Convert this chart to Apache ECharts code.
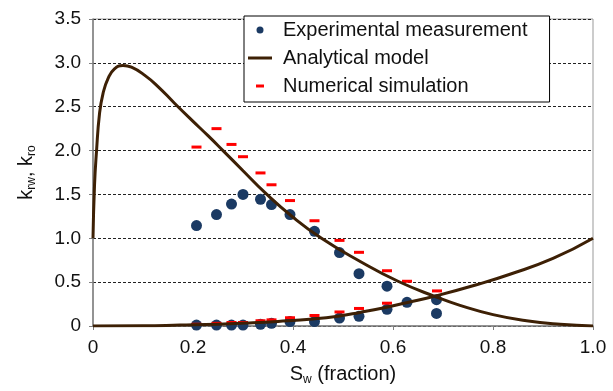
<!DOCTYPE html>
<html>
<head>
<meta charset="utf-8">
<script src="https://cdn.jsdelivr.net/npm/echarts@6/dist/echarts.min.js"></script>
<style>
  html, body {margin: 0; padding: 0; background: #fff;}
  #main {width: 613px; height: 391px;}
</style>
</head>
<body>
<div id="main"></div>
<script>
// experimental points
const swExp = [0.207, 0.247, 0.277, 0.30, 0.335, 0.357, 0.394, 0.443, 0.493, 0.532, 0.588, 0.628, 0.687];
const kroExp = [1.145, 1.27, 1.39, 1.50, 1.445, 1.385, 1.27, 1.08, 0.837, 0.597, 0.454, null, 0.143];
const krwExp = [0.01, 0.01, 0.01, 0.01, 0.02, 0.03, 0.05, 0.05, 0.09, 0.11, 0.19, 0.27, 0.30];

// numerical simulation
const swSim = [0.207, 0.247, 0.277, 0.30, 0.335, 0.357, 0.394, 0.443, 0.493, 0.532, 0.588, 0.628, 0.688];
const kroSim = [2.04, 2.25, 2.07, 1.93, 1.745, 1.61, 1.43, 1.20, 0.976, 0.84, 0.63, 0.51, 0.40];
const krwSim = [0.02, 0.03, 0.04, 0.04, 0.06, 0.07, 0.094, 0.12, 0.16, 0.20, 0.26, null, null];

// analytical model curves
const swModelKro = [0, 0.003, 0.007, 0.013, 0.02, 0.03, 0.043, 0.06, 0.077, 0.103, 0.13, 0.163, 0.197, 0.23, 0.26, 0.30, 0.344, 0.40, 0.457, 0.53, 0.61, 0.687, 0.734, 0.80, 0.867, 0.934, 1.0];
const kroModel = [1.0, 1.6, 1.99, 2.42, 2.65, 2.82, 2.93, 2.97, 2.95, 2.86, 2.73, 2.54, 2.35, 2.17, 2.0, 1.77, 1.52, 1.24, 1.0, 0.75, 0.51, 0.33, 0.235, 0.13, 0.06, 0.02, 0];
const swModelKrw = [0, 0.1, 0.174, 0.25, 0.307, 0.37, 0.44, 0.49, 0.534, 0.58, 0.627, 0.687, 0.767, 0.834, 0.92, 1.0];
const krwModel = [0, 0.002, 0.01, 0.02, 0.033, 0.052, 0.08, 0.112, 0.155, 0.205, 0.265, 0.345, 0.47, 0.59, 0.77, 1.0];

const pairs = (xs, ys) => xs.map((x, i) => [x, ys[i]]).filter(p => p[1] !== null);

const font = 'Liberation Sans, Arial, Helvetica, sans-serif';
const brown = '#3d2005';
const tickFmt = v => v === 0 ? '0' : v.toFixed(1);

const chart = echarts.init(document.getElementById('main'));
chart.setOption({
    animation: false,
    textStyle: {fontFamily: font, color: '#111'},
    grid: {left: 93, right: 20, top: 19, bottom: 61, show: true, borderColor: '#999', borderWidth: 1},
    legend: {
        orient: 'vertical',
        left: 244,
        top: 16,
        padding: [3, 22, 5, 4],
        backgroundColor: '#fff',
        borderColor: '#000',
        borderWidth: 1,
        itemWidth: 24,
        itemHeight: 7,
        itemGap: 6,
        textStyle: {fontSize: 20, lineHeight: 22, color: '#111', padding: [0, 0, 0, 6]},
        data: [
            {name: 'Experimental measurement', icon: 'circle'},
            {name: 'Analytical model', icon: 'path://M0,0M24,7M0,2h24v3h-24z'},
            {name: 'Numerical simulation', icon: 'path://M0,0M24,7M8,2h8v3h-8z'}
        ]
    },
    xAxis: {
        type: 'value',
        min: 0,
        max: 1,
        interval: 0.2,
        name: '{m|S}{s|w}{m| (fraction)}',
        nameLocation: 'middle',
        nameGap: 36,
        nameTextStyle: {
            rich: {
                m: {fontSize: 20, lineHeight: 24, fontFamily: font, color: '#111'},
                s: {fontSize: 12, lineHeight: 12, verticalAlign: 'bottom', fontFamily: font, color: '#111'}
            }
        },
        axisLine: {lineStyle: {color: '#808080', width: 1.5}},
        axisTick: {show: true, length: 4, lineStyle: {color: '#808080'}},
        axisLabel: {fontSize: 19, margin: 12, color: '#111', formatter: tickFmt},
        splitLine: {show: false}
    },
    yAxis: {
        type: 'value',
        min: 0,
        max: 3.5,
        interval: 0.5,
        name: '{m|k}{s|rw}{m|, k}{s|ro}',
        nameLocation: 'middle',
        nameRotate: 90,
        nameGap: 55,
        nameTextStyle: {
            rich: {
                m: {fontSize: 20, lineHeight: 24, fontFamily: font, color: '#111'},
                s: {fontSize: 12, lineHeight: 12, verticalAlign: 'bottom', fontFamily: font, color: '#111'}
            }
        },
        axisLine: {show: true, lineStyle: {color: '#808080', width: 1.5}},
        axisTick: {show: true, length: 4, lineStyle: {color: '#808080'}},
        axisLabel: {fontSize: 19, margin: 12, color: '#111', formatter: tickFmt},
        splitLine: {show: true, lineStyle: {color: '#222', type: [3, 2], width: 1}}
    },
    series: [
        {
            name: 'Experimental measurement',
            type: 'scatter',
            symbol: 'circle',
            symbolSize: 11,
            itemStyle: {color: '#1b3a63', opacity: 1},
            data: pairs(swExp, kroExp).concat(pairs(swExp, krwExp))
        },
        {
            name: 'Analytical model',
            type: 'line',
            symbol: 'none',
            smooth: true,
            lineStyle: {color: brown, width: 3},
            itemStyle: {color: brown},
            data: pairs(swModelKro, kroModel)
        },
        {
            name: 'Analytical model',
            type: 'line',
            symbol: 'none',
            smooth: true,
            lineStyle: {color: brown, width: 3},
            itemStyle: {color: brown},
            data: pairs(swModelKrw, krwModel)
        },
        {
            name: 'Numerical simulation',
            type: 'scatter',
            symbol: 'rect',
            symbolSize: [10, 3],
            itemStyle: {color: '#ff0000', opacity: 1},
            data: pairs(swSim, kroSim).concat(pairs(swSim, krwSim))
        }
    ]
});
</script>
</body>
</html>
